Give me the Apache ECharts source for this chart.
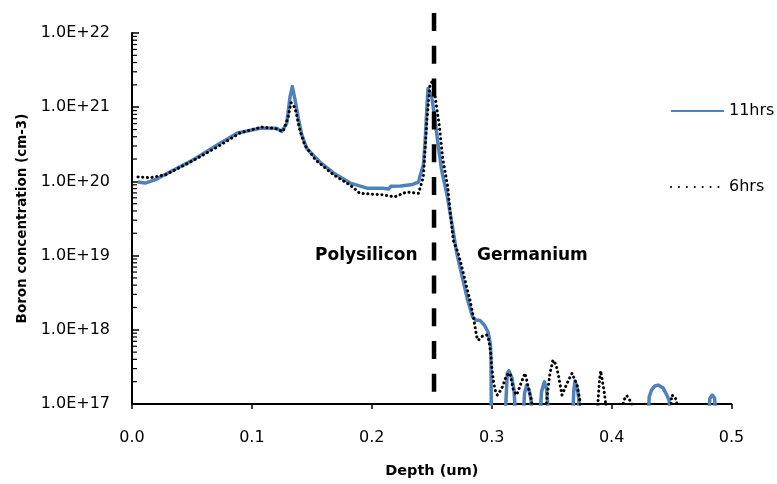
<!DOCTYPE html>
<html>
<head>
<meta charset="utf-8">
<script src="https://cdn.jsdelivr.net/npm/echarts@6/dist/echarts.min.js"></script>
<style>
  html, body { margin: 0; padding: 0; background: #fff; }
  #chart { width: 777px; height: 484px; }
</style>
</head>
<body>
<div id="chart"></div>
<script>
// 11hrs profile (depth in um, boron concentration in cm-3)
const depth11 = [
  0.005, 0.011, 0.019, 0.032, 0.051, 0.071, 0.088, 0.107, 0.1207, 0.1248,
  0.129, 0.1318, 0.1337, 0.136, 0.1387, 0.1415, 0.1457, 0.157, 0.168, 0.182,
  0.196, 0.209, 0.214, 0.216, 0.224, 0.234, 0.239, 0.240, 0.243, 0.2444,
  0.2461, 0.2469, 0.250, 0.2527, 0.2555, 0.2583, 0.2625, 0.267, 0.2709, 0.276,
  0.280, 0.284, 0.287, 0.290, 0.294, 0.297, 0.299, 0.2994, 0.3000,
  0.3111, 0.3130, 0.3142, 0.3167, 0.3186, 0.3200,
  0.3261, 0.3274, 0.3292, 0.3311, 0.3328, 0.3336,
  0.3403, 0.3415, 0.3439, 0.3457, 0.3465, 0.3472,
  0.3676, 0.3684, 0.3695, 0.3711, 0.3726, 0.3731,
  0.4304, 0.4314, 0.4334, 0.4362, 0.4387, 0.4429, 0.4460, 0.4481, 0.4487,
  0.4806, 0.4820, 0.4840, 0.4859, 0.4871
];
const conc11 = [
  9.8e19, 9.5e19, 1.05e20, 1.35e20, 1.95e20, 3.1e20, 4.5e20, 5.2e20, 5.2e20, 4.7e20,
  6e20, 1.38e21, 1.9e21, 1.26e21, 7.1e20, 4.3e20, 2.8e20, 1.8e20, 1.3e20, 9.5e19,
  8.1e19, 8.1e19, 7.9e19, 8.6e19, 8.7e19, 9.1e19, 9.8e19, 1.15e20, 1.66e20, 3.3e20,
  1.1e21, 1.78e21, 1.38e21, 6.7e20, 2.95e20, 1.4e20, 6.9e19, 2.6e19, 1.07e19, 4.7e18,
  2.5e18, 1.5e18, 1.35e18, 1.35e18, 1.15e18, 9.3e17, 6.3e17, 4e17, 1e16,
  6e16, 2.6e17, 2.8e17, 2.3e17, 1.55e17, 6e16,
  6e16, 1.4e17, 1.8e17, 1.55e17, 1.15e17, 6e16,
  6e16, 1.45e17, 2e17, 1.6e17, 1.1e17, 6e16,
  6e16, 1.5e17, 2.05e17, 1.7e17, 1.2e17, 6e16,
  6e16, 1.26e17, 1.55e17, 1.75e17, 1.8e17, 1.65e17, 1.33e17, 1.1e17, 6e16,
  6e16, 1.2e17, 1.32e17, 1.2e17, 6e16
];

// 6hrs profile
const depth6 = [
  0.005, 0.015, 0.028, 0.048, 0.071, 0.090, 0.108, 0.119, 0.126, 0.130,
  0.1326, 0.136, 0.140, 0.144, 0.153, 0.168, 0.182, 0.190, 0.209, 0.219,
  0.229, 0.239, 0.241, 0.243, 0.246, 0.2485, 0.251, 0.2536, 0.2564, 0.2592,
  0.2633, 0.2652, 0.268, 0.2721, 0.275, 0.2791, 0.2819, 0.2847, 0.2861, 0.2875,
  0.2888, 0.2917, 0.2958, 0.2977, 0.2992, 0.3000, 0.3013, 0.3028, 0.3047, 0.3083,
  0.3125, 0.3153, 0.3180, 0.3208, 0.3250, 0.3278, 0.3305, 0.3334, 0.3350,
  0.3450, 0.3461, 0.3486, 0.3511, 0.3536, 0.3553, 0.3586, 0.3628, 0.3670, 0.3712,
  0.3736, 0.3750,
  0.3880, 0.3887, 0.3899, 0.3909, 0.3920, 0.3937, 0.3953, 0.3960,
  0.4090, 0.4098, 0.4126, 0.4168, 0.4180,
  0.4490, 0.4501, 0.4529, 0.4545, 0.4550
];
const conc6 = [
  1.15e20, 1.12e20, 1.23e20, 1.8e20, 2.9e20, 4.5e20, 5.4e20, 5.2e20, 4.7e20, 7.1e20,
  1.15e21, 9.8e20, 4.9e20, 3.1e20, 1.95e20, 1.23e20, 8.9e19, 6.9e19, 6.6e19, 6.2e19,
  7.2e19, 6.9e19, 8.9e19, 1.15e20, 6.7e20, 2e21, 2.3e21, 1.12e21, 5.5e20, 2e20,
  8.5e19, 4.1e19, 1.6e19, 1.07e19, 7.1e18, 3.8e18, 2.5e18, 1.5e18, 1.1e18, 8.1e17,
  7.2e17, 8.1e17, 8.5e17, 7.2e17, 4.8e17, 3.2e17, 2.1e17, 1.55e17, 1.32e17, 1.6e17,
  2.45e17, 2.6e17, 1.55e17, 1.32e17, 2e17, 2.6e17, 1.7e17, 1.07e17, 6e16,
  6e16, 1.23e17, 2.6e17, 3.9e17, 3.4e17, 2.6e17, 1.32e17, 1.9e17, 2.6e17, 1.8e17,
  1.1e17, 6e16,
  6e16, 1.1e17, 2.1e17, 2.8e17, 2.2e17, 1.5e17, 9.5e16, 6e16,
  6e16, 1.1e17, 1.3e17, 1.03e17, 6e16,
  6e16, 1.32e17, 1.25e17, 1e17, 6e16
];

// vertical interface between polysilicon and germanium
const interfaceDepth = 0.2519;
const interfaceSpan = [1.86e22, 1e17];

const seriesNames = ['11hrs', '6hrs'];
const regionLabels = ['Polysilicon', 'Germanium'];

// log axis minor ticks at 2..9 x 10^n
const decades = [17, 18, 19, 20, 21];
const minorMultipliers = [2, 3, 4, 5, 6, 7, 8, 9];

const FONT = 'DejaVu Sans';

function pairs(xs, ys) {
  return xs.map((x, i) => [x, ys[i]]);
}

const minorTickData = [];
decades.forEach(d => {
  minorMultipliers.forEach(m => minorTickData.push([0, m * Math.pow(10, d)]));
});

const chart = echarts.init(document.getElementById('chart'));

const legendText = { fontFamily: FONT, fontSize: 16, color: '#000', lineHeight: 18 };

chart.setOption({
  animation: false,
  backgroundColor: '#fff',
  grid: { left: 132, right: 45.5, top: 33, bottom: 80, containLabel: false, outerBoundsMode: 'none' },
  legend: [
    {
      left: 670, top: 102, itemWidth: 53, itemHeight: 18, padding: 0,
      itemStyle: { opacity: 0 },
      data: [{ name: seriesNames[0] }],
      textStyle: legendText
    },
    {
      left: 670, top: 178, itemWidth: 53, itemHeight: 18, padding: 0,
      itemStyle: { opacity: 0 },
      data: [{ name: seriesNames[1], lineStyle: { type: [0.1, 7.8], cap: 'round' } }],
      textStyle: legendText
    }
  ],
  xAxis: {
    type: 'value',
    min: 0, max: 0.5, interval: 0.1,
    name: 'Depth (um)',
    nameLocation: 'middle',
    nameGap: 60,
    nameTextStyle: { fontFamily: FONT, fontSize: 14.5, fontWeight: 'bold', color: '#000' },
    axisLine: { onZero: false, lineStyle: { color: '#000', width: 2 } },
    axisTick: { inside: false, length: 5, lineStyle: { color: '#000', width: 1.5 } },
    splitLine: { show: false },
    axisLabel: {
      fontFamily: FONT, fontSize: 16, color: '#000', margin: 26,
      formatter: v => v.toFixed(1)
    }
  },
  yAxis: {
    type: 'log',
    logBase: 10,
    min: 1e17, max: 1e22,
    name: 'Boron concentration (cm-3)',
    nameLocation: 'middle',
    nameGap: 99,
    nameTextStyle: { fontFamily: FONT, fontSize: 13.5, fontWeight: 'bold', color: '#000' },
    axisLine: { show: true, lineStyle: { color: '#000', width: 2 } },
    axisTick: { inside: true, length: 7, lineStyle: { color: '#000', width: 1.5 } },
    minorTick: { show: false },
    splitLine: { show: false },
    axisLabel: {
      fontFamily: FONT, fontSize: 16, color: '#000', margin: 22,
      formatter: v => '1.0E+' + Math.round(Math.log10(v))
    }
  },
  graphic: [
    {
      type: 'text', left: 315, top: 247,
      style: { text: regionLabels[0], font: 'bold 17px "DejaVu Sans"', fill: '#000' }
    },
    {
      type: 'text', left: 477, top: 247,
      style: { text: regionLabels[1], font: 'bold 17px "DejaVu Sans"', fill: '#000' }
    }
  ],
  series: [
    {
      name: 'minorTicks',
      type: 'custom',
      data: minorTickData,
      silent: true,
      clip: false,
      renderItem: (params, api) => {
        const p = api.coord([0, api.value(1)]);
        return {
          type: 'line',
          shape: { x1: p[0], y1: p[1], x2: p[0] + 5, y2: p[1] },
          style: { stroke: '#000', lineWidth: 1.2 }
        };
      },
      z: 1
    },
    {
      name: seriesNames[0],
      type: 'line',
      data: pairs(depth11, conc11),
      showSymbol: false,
      symbol: 'none',
      lineStyle: { color: '#4F81BD', width: 3.5, join: 'round' },
      itemStyle: { color: '#4F81BD' },
      z: 2
    },
    {
      name: seriesNames[1],
      type: 'line',
      data: pairs(depth6, conc6),
      showSymbol: false,
      symbol: 'none',
      lineStyle: { color: '#000', width: 3, type: [0.1, 4.6], cap: 'round' },
      itemStyle: { color: '#000' },
      z: 3
    },
    {
      name: 'interface',
      type: 'line',
      data: interfaceSpan.map(v => [interfaceDepth, v]),
      showSymbol: false,
      symbol: 'none',
      clip: false,
      silent: true,
      lineStyle: { color: '#000', width: 4.5, type: [18, 14.8] },
      z: 4
    }
  ]
});
</script>
</body>
</html>
